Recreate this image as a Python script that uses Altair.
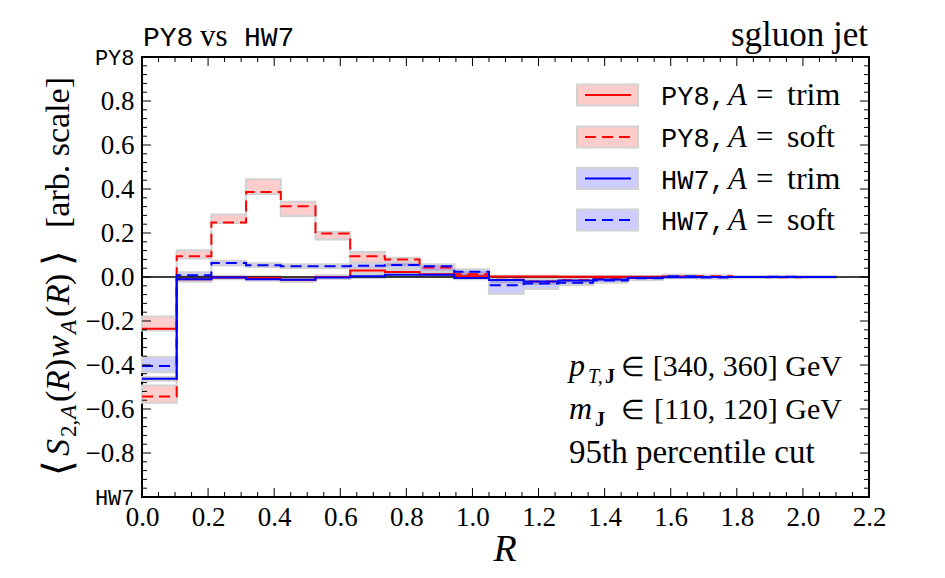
import altair as alt
import numpy as np
import pandas as pd

# ---- bin edges in R (20 bins) ----
edges = [0.0, 0.105, 0.21, 0.315, 0.42, 0.525, 0.63, 0.735, 0.84, 0.945, 1.05,
         1.155, 1.26, 1.365, 1.47, 1.575, 1.68, 1.785, 1.89, 1.995, 2.1]

# ---- central values per bin ----
py8_trim = [-0.235, -0.010, -0.002, -0.005, -0.012, 0.000, 0.030, 0.023, 0.012, 0.003,
            0.002, 0.002, 0.001, 0.001, 0.001, 0.000, 0.000, 0.000, 0.000, 0.000]
py8_soft = [-0.543, 0.094, 0.248, 0.386, 0.322, 0.198, 0.094, 0.079, 0.043, 0.012,
            -0.012, -0.020, -0.015, -0.006, -0.003, 0.002, 0.003, 0.000, -0.001, 0.000]
hw7_trim = [-0.463, -0.010, -0.002, -0.010, -0.013, -0.002, 0.003, 0.010, 0.010, -0.005,
            -0.014, -0.020, -0.016, -0.011, -0.003, -0.001, 0.000, 0.000, 0.000, 0.000]
hw7_soft = [-0.405, 0.008, 0.064, 0.053, 0.049, 0.049, 0.051, 0.055, 0.049, 0.024,
            -0.038, -0.030, -0.026, -0.016, -0.006, 0.003, -0.002, 0.000, 0.001, 0.000]

# ---- uncertainty bands (low / high) ----
py8_soft_lo = [-0.572, 0.084, 0.245, 0.377, 0.277, 0.170, 0.066, 0.053, 0.030, 0.000,
               -0.025, -0.032, -0.024, -0.014, -0.008, -0.004, -0.002, -0.004, -0.005, -0.003]
py8_soft_hi = [-0.493, 0.122, 0.284, 0.444, 0.342, 0.205, 0.114, 0.088, 0.055, 0.022,
               -0.002, -0.010, -0.007, 0.002, 0.003, 0.007, 0.008, 0.004, 0.003, 0.003]
py8_trim_lo = [-0.243, -0.022, -0.010, -0.012, -0.020, -0.008, 0.018, 0.013, 0.004, -0.004,
               -0.004, -0.004, -0.004, -0.004, -0.003, -0.003, -0.003, -0.003, -0.003, -0.003]
py8_trim_hi = [-0.180, 0.002, 0.006, 0.003, -0.004, 0.008, 0.040, 0.033, 0.020, 0.010,
               0.006, 0.006, 0.005, 0.005, 0.004, 0.003, 0.003, 0.003, 0.003, 0.003]
hw7_soft_lo = [-0.433, -0.006, 0.052, 0.045, 0.041, 0.040, 0.038, 0.040, 0.025, 0.000,
               -0.076, -0.054, -0.036, -0.026, -0.014, -0.006, -0.008, -0.005, -0.004, -0.004]
hw7_soft_hi = [-0.364, 0.022, 0.074, 0.062, 0.058, 0.058, 0.062, 0.068, 0.058, 0.035,
               -0.012, -0.020, -0.018, -0.008, 0.002, 0.010, 0.005, 0.004, 0.004, 0.004]
hw7_trim_lo = [-0.472, -0.018, -0.008, -0.016, -0.020, -0.008, -0.004, 0.004, 0.003, -0.010,
               -0.022, -0.026, -0.022, -0.016, -0.006, -0.004, -0.003, -0.003, -0.003, -0.003]
hw7_trim_hi = [-0.454, -0.003, 0.004, -0.004, -0.006, 0.004, 0.010, 0.016, 0.016, 0.000,
               -0.008, -0.014, -0.012, -0.006, 0.002, 0.002, 0.003, 0.003, 0.003, 0.003]

# ---- axis ticks ----
x_major = [0.0, 0.2, 0.4, 0.6, 0.8, 1.0, 1.2, 1.4, 1.6, 1.8, 2.0, 2.2]
y_major = [-1.0, -0.8, -0.6, -0.4, -0.2, 0.0, 0.2, 0.4, 0.6, 0.8, 1.0]
x_minor = [v for v in np.round(np.arange(0, 2.2001, 0.05), 3) if min(abs(v - m) for m in x_major) > 1e-6]
y_minor = [v for v in np.round(np.arange(-1, 1.0001, 0.04), 3) if min(abs(v - m) for m in y_major) > 1e-6]

legend_rows = [("PY8,", "trim", "red", False), ("PY8,", "soft", "red", True),
               ("HW7,", "trim", "blue", False), ("HW7,", "soft", "blue", True)]

# ---- layout ----
W, H = 727, 440
OX, OY = 142, 57
SERIF = "Liberation Serif"
MONO = "Liberation Mono"
RED, BLUE = "#ff0000", "#0000ff"
EDGE = "#d2d2d2"
DASH = [11, 6]

x_scale = alt.Scale(domain=[0, 2.2], nice=False, zero=False)
y_scale = alt.Scale(domain=[-1, 1], nice=False, zero=False)

x_axis = alt.Axis(values=x_major, format=".1f", ticks=False, domain=False, grid=False,
                  labelFont=SERIF, labelFontSize=27, labelColor="black", labelPadding=7,
                  labelFlush=False, labelOverlap=False, title=None)
y_axis = alt.Axis(values=y_major, ticks=False, domain=False, grid=False,
                  labelExpr="abs(datum.value) > 0.99 ? (datum.value > 0 ? 'PY8' : 'HW7') : format(datum.value, '.1f')",
                  labelFont={"condition": {"test": "abs(datum.value) > 0.99", "value": MONO}, "value": SERIF},
                  labelFontSize={"condition": {"test": "abs(datum.value) > 0.99", "value": 22}, "value": 27},
                  labelColor="black", labelPadding=8, labelOverlap=False, title=None)

XE = dict(scale=x_scale, axis=x_axis)
YE = dict(scale=y_scale, axis=y_axis)


def step_df(vals):
    return pd.DataFrame({"R": edges, "v": vals + [vals[-1]]})


def band_df(lo, hi):
    return pd.DataFrame({"R": edges, "lo": lo + [lo[-1]], "hi": hi + [hi[-1]]})


def band(lo, hi, fill):
    return alt.Chart(band_df(lo, hi)).mark_area(
        interpolate="step-after", fill=fill, fillOpacity=0.2, stroke=EDGE, strokeWidth=2
    ).encode(x=alt.X("R:Q", **XE), y=alt.Y("lo:Q", **YE), y2="hi:Q")


def step(vals, color, dashed):
    kw = {"strokeDash": DASH} if dashed else {}
    return alt.Chart(step_df(vals)).mark_line(
        interpolate="step-after", color=color, strokeWidth=2, **kw
    ).encode(x=alt.X("R:Q", **XE), y=alt.Y("v:Q", **YE))


def xticks(vals, length, top):
    y0, y1 = (0, length) if top else (H, H - length)
    return alt.Chart(pd.DataFrame({"t": vals})).mark_rule(color="black", strokeWidth=1).encode(
        x=alt.X("t:Q", **XE), y=alt.value(y0), y2=alt.value(y1))


def yticks(vals, length, right):
    x0, x1 = (W, W - length) if right else (0, length)
    return alt.Chart(pd.DataFrame({"t": vals})).mark_rule(color="black", strokeWidth=1).encode(
        y=alt.Y("t:Q", **YE), x=alt.value(x0), x2=alt.value(x1))


def texts(rows, font=SERIF, style="normal", weight="normal", align="left", angle=0):
    df = pd.DataFrame(rows, columns=["t", "px", "py", "size"])
    df["x"] = df["px"] - OX
    df["y"] = df["py"] - OY
    return alt.Chart(df).mark_text(
        font=font, fontStyle=style, fontWeight=weight, align=align, baseline="alphabetic",
        angle=angle, color="black"
    ).encode(x=alt.X("x:Q", scale=None, axis=None), y=alt.Y("y:Q", scale=None, axis=None),
             text="t:N", size=alt.Size("size:Q", scale=None, legend=None))


layers = [
    band(py8_trim_lo, py8_trim_hi, RED),
    band(py8_soft_lo, py8_soft_hi, RED),
    band(hw7_trim_lo, hw7_trim_hi, BLUE),
    band(hw7_soft_lo, hw7_soft_hi, BLUE),
]

# zero line
layers.append(alt.Chart(pd.DataFrame({"z": [0.0]})).mark_rule(color="black", strokeWidth=1.6).encode(
    y=alt.Y("z:Q", **YE), x=alt.value(0), x2=alt.value(W)))

layers += [
    step(py8_trim, RED, False),
    step(py8_soft, RED, True),
    step(hw7_trim, BLUE, False),
    step(hw7_soft, BLUE, True),
]

# inward ticks on all four sides
layers += [
    xticks(x_major, 9, False), xticks(x_minor, 5, False),
    xticks(x_major, 9, True), xticks(x_minor, 5, True),
    yticks(y_major, 9, False), yticks(y_minor, 5, False),
    yticks(y_major, 9, True), yticks(y_minor, 5, True),
]

# legend swatches and line samples
row_c = [95, 137, 178.5, 220]
sw = pd.DataFrame({
    "x0": [577 - OX] * 4, "x1": [638 - OX] * 4,
    "y0": [c - 10.5 - OY for c in row_c], "y1": [c + 10.5 - OY for c in row_c],
    "c": [RED, RED, BLUE, BLUE],
})
layers.append(alt.Chart(sw).mark_rect(stroke=EDGE, strokeWidth=2, fillOpacity=0.2).encode(
    x=alt.X("x0:Q", scale=None, axis=None), x2="x1:Q",
    y=alt.Y("y0:Q", scale=None, axis=None), y2="y1:Q",
    fill=alt.Fill("c:N", scale=None, legend=None)))
for dashed in (False, True):
    rows = [(c, col) for c, (_, _, col, d) in zip(row_c, legend_rows) if d == dashed]
    df = pd.DataFrame({"y": [r[0] - OY for r in rows],
                       "c": [RED if r[1] == "red" else BLUE for r in rows],
                       "x0": [585 - OX] * len(rows), "x1": [631 - OX] * len(rows)})
    kw = {"strokeDash": DASH} if dashed else {}
    layers.append(alt.Chart(df).mark_rule(strokeWidth=2, **kw).encode(
        x=alt.X("x0:Q", scale=None, axis=None), x2="x1:Q",
        y=alt.Y("y:Q", scale=None, axis=None),
        color=alt.Color("c:N", scale=None, legend=None)))

# legend labels
lb = [c + 10 for c in row_c]
layers.append(texts([(g, 661, b, 27) for (g, _, _, _), b in zip(legend_rows, lb)], font=MONO))
layers.append(texts([("A", 728, b, 31) for b in lb], style="italic"))
layers.append(texts([("=", 756, b, 31) for b in lb] +
                    [(k, 787, b, 32) for (_, k, _, _), b in zip(legend_rows, lb)]))

# header
layers.append(texts([("PY8", 143, 46, 28), ("HW7", 244, 46, 28)], font=MONO))
layers.append(texts([("vs", 200, 46, 31)]))
layers.append(texts([("sgluon jet", 868, 46, 35)], align="right"))

# annotation block
layers.append(texts([("p", 569, 376, 32), ("m", 569, 419, 32)], style="italic"))
layers.append(texts([("T,", 588, 383, 20)], style="italic"))
layers.append(texts([("J", 605, 383, 20), ("J", 595, 426, 20)], weight="bold"))
layers.append(texts([("∈", 633, 376, 27), ("∈", 633, 419, 27)], align="center"))
layers.append(texts([("[340, 360] GeV", 842, 376, 30), ("[110, 120] GeV", 842, 419, 30)], align="right"))
layers.append(texts([("95th percentile cut", 569, 463, 33)]))

# x-axis title
layers.append(texts([("R", 505, 561, 38)], style="italic", align="center"))

# y-axis title, read bottom-to-top
YB, YS = 69, 76
layers.append(texts([("⟨", YB + 2, 476, 40), ("(", YB, 402, 34), (")", YB, 370, 34),
                     ("(", YB, 317, 34), (")", YB, 285, 34), ("⟩", YB + 2, 266, 40),
                     ("[arb. scale]", YB, 228, 34), ("2,", YS, 437, 23)], angle=270))
layers.append(texts([("S", YB, 456, 34), ("R", YB, 391, 34), ("w", YB, 358, 34),
                     ("R", YB, 305, 34), ("A", YS, 419, 23), ("A", YS, 334, 23)],
                    style="italic", angle=270))

chart = alt.layer(*layers).properties(
    width=W, height=H,
    padding={"left": OX, "top": OY, "right": 945 - OX - W, "bottom": 578 - OY - H},
    autosize=alt.AutoSizeParams(type="none"),
    background="white",
).configure_view(stroke="black", strokeWidth=2)

chart.save("out.html", embed_options={"renderer": "svg", "actions": False})
